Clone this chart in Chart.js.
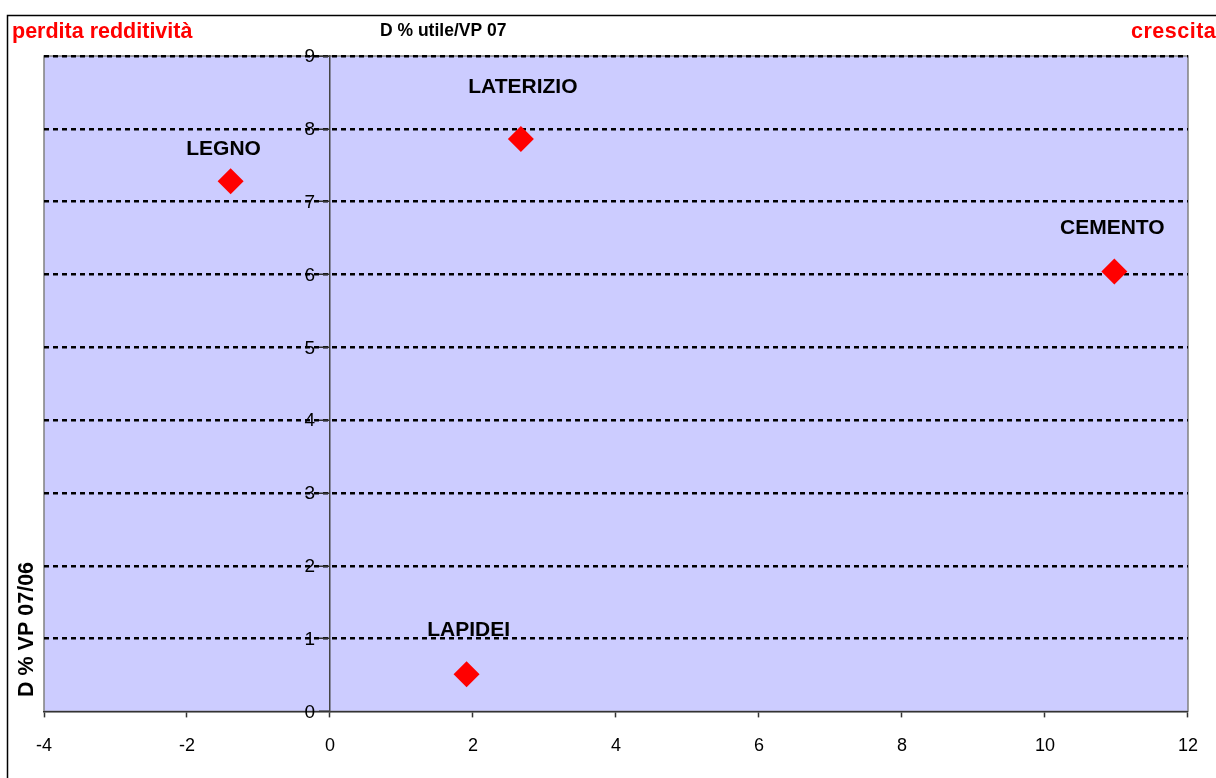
<!DOCTYPE html>
<html>
<head>
<meta charset="utf-8">
<script src="https://cdn.jsdelivr.net/npm/chart.js"></script>
<style>
  html, body { margin: 0; padding: 0; background: #fff; }
  #wrap { width: 1216px; height: 778px; }
</style>
</head>
<body>
<div id="wrap"><canvas id="chart" width="1216" height="778"></canvas></div>
<script>
(function () {
  'use strict';

  // ===== data =====
  const sectors = ['LATERIZIO', 'LAPIDEI', 'LEGNO', 'CEMENTO'];
  const utileChange = [2.67, 1.91, -1.39, 10.97];   // D % utile/VP 07 (x)
  const vpChange = [7.86, 0.51, 7.28, 6.04];        // D % VP 07/06 (y)
  const xTicks = [-4, -2, 0, 2, 4, 6, 8, 10, 12];
  const yTicks = [0, 1, 2, 3, 4, 5, 6, 7, 8, 9];

  const FONT = '"Liberation Sans", Arial, sans-serif';
  // spostamento etichetta rispetto al punto (px): [dx, dy alla linea di base]
  const labelShift = [[2, -46], [2, -38], [-7, -26], [-2, -38]];

  const points = sectors.map((s, i) => ({ x: utileChange[i], y: vpChange[i] }));

  const frame = {
    id: 'frame',
    beforeDraw(chart) {
      const ctx = chart.ctx;
      const a = chart.chartArea;
      ctx.save();
      ctx.fillStyle = '#fff';
      ctx.fillRect(0, 0, chart.width, chart.height);
      // cornice esterna
      ctx.strokeStyle = '#000';
      ctx.lineWidth = 1.5;
      ctx.strokeRect(7.5, 15.5, 1400, 1000);
      // area del grafico
      ctx.fillStyle = '#CCCCFF';
      ctx.fillRect(a.left, a.top, a.right - a.left, a.bottom - a.top);
      ctx.strokeStyle = '#808080';
      ctx.lineWidth = 1.5;
      ctx.strokeRect(a.left, a.top, a.right - a.left, a.bottom - a.top);

      // testi
      ctx.textBaseline = 'alphabetic';
      ctx.textAlign = 'left';
      ctx.font = 'bold 21.5px ' + FONT;
      ctx.fillStyle = '#FF0000';
      ctx.fillText('perdita redditività', 12, 38);
      ctx.letterSpacing = '0.5px';
      ctx.fillText('crescita', 1131, 38);
      ctx.letterSpacing = '0px';
      ctx.font = 'bold 17.5px ' + FONT;
      ctx.fillStyle = '#000';
      ctx.fillText('D % utile/VP 07', 380, 36);

      ctx.font = 'bold 21.5px ' + FONT;
      ctx.translate(33, 697);
      ctx.rotate(-Math.PI / 2);
      ctx.fillText('D % VP 07/06', 0, 0);
      ctx.restore();
    },
    afterDatasetsDraw(chart) {
      const ctx = chart.ctx;
      const meta = chart.getDatasetMeta(0);
      ctx.save();
      ctx.font = 'bold 21px ' + FONT;
      ctx.fillStyle = '#000';
      ctx.textAlign = 'center';
      ctx.textBaseline = 'alphabetic';
      meta.data.forEach((el, i) => {
        ctx.fillText(sectors[i], el.x + labelShift[i][0], el.y + labelShift[i][1]);
      });

      // etichette asse y, a sinistra dell'asse x = 0
      const xs = chart.scales.x;
      const ys = chart.scales.y;
      const x0 = xs.getPixelForValue(0);
      ctx.font = '19px ' + FONT;
      ctx.textAlign = 'right';
      ctx.textBaseline = 'middle';
      ys.ticks.forEach(t => {
        ctx.fillText(String(t.value), x0 - 15, ys.getPixelForValue(t.value) + 1);
      });
      ctx.restore();
    }
  };

  new Chart(document.getElementById('chart').getContext('2d'), {
    type: 'scatter',
    data: {
      labels: sectors,
      datasets: [{
        data: points,
        pointStyle: 'rectRot',
        pointRadius: 13,
        pointHoverRadius: 13,
        backgroundColor: '#FF0000',
        borderColor: '#FF0000',
        borderWidth: 0
      }]
    },
    options: {
      responsive: false,
      animation: false,
      events: [],
      layout: { padding: { left: 44, right: 25, top: 56, bottom: 3 } },
      plugins: {
        legend: { display: false },
        tooltip: { enabled: false }
      },
      scales: {
        x: {
          type: 'linear',
          min: -4,
          max: 12,
          afterBuildTicks(scale) {
            scale.ticks = xTicks.map(v => ({ value: v }));
          },
          ticks: {
            color: '#000',
            padding: 18,
            maxRotation: 0,
            font: { family: FONT, size: 18 }
          },
          grid: {
            drawOnChartArea: false,
            drawTicks: true,
            tickLength: 6,
            tickColor: '#333',
            tickWidth: 1.5
          },
          border: { display: true, color: '#333', width: 1.5 }
        },
        y: {
          type: 'linear',
          min: 0,
          max: 9,
          position: { x: 0 },
          afterBuildTicks(scale) {
            scale.ticks = yTicks.map(v => ({ value: v }));
          },
          ticks: { display: false },
          grid: {
            color: ctx => (ctx.tick && ctx.tick.value === 0 ? 'rgba(0,0,0,0)' : '#000'),
            lineWidth: 2.5,
            tickLength: 10,
            tickColor: '#333',
            tickWidth: 1.5
          },
          border: { display: true, color: '#444', width: 1.5, dash: [5, 4] }
        }
      }
    },
    plugins: [frame]
  });
})();
</script>
</body>
</html>
